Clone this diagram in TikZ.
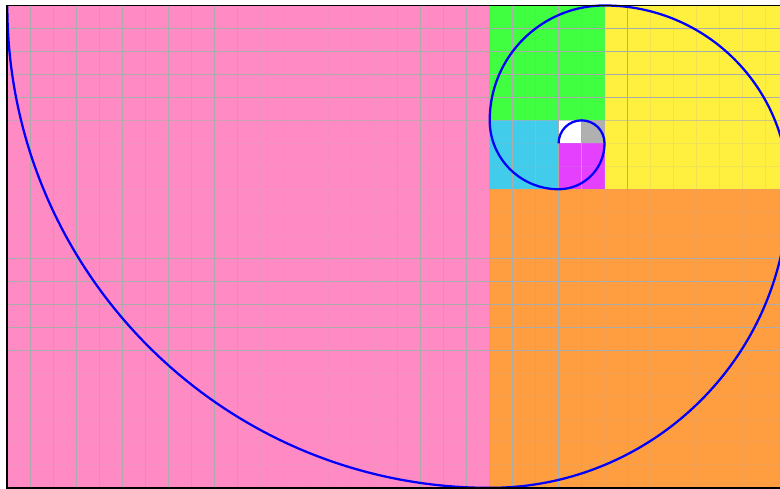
\documentclass[tikz,border=0pt]{standalone}
\usepackage{tikz}
\definecolor{fpink}{RGB}{255,138,196}
\definecolor{forange}{RGB}{255,158,64}
\definecolor{fyellow}{RGB}{255,240,64}
\definecolor{fgreen}{RGB}{64,255,64}
\definecolor{fcyan}{RGB}{66,204,236}
\definecolor{fmagenta}{RGB}{230,64,255}
\definecolor{fgray}{RGB}{176,176,176}
\definecolor{gridgray}{RGB}{172,172,172}
\tikzset{
  sq/.style={fill=#1, draw=none},
  gridline/.style={draw=gridgray, line width=1.1pt},
  faintline/.style={draw=gridgray, line width=1.1pt, draw opacity=0.18},
  spiral/.style={draw=blue, line width=2.8pt},
  frameline/.style={draw=black, line width=2pt}
}
\begin{document}
\begin{tikzpicture}[x=1cm,y=1cm]
\useasboundingbox (-0.318,-0.048) rectangle (33.639,21.239);
\clip (-0.318,-0.048) rectangle (33.639,21.239);
% squares
\path[sq=fpink]    (0,0)   rectangle (21,21);
\path[sq=forange]  (21,0)  rectangle (34,13);
\path[sq=fyellow]  (26,13) rectangle (34,21);
\path[sq=fgreen]   (21,16) rectangle (26,21);
\path[sq=fcyan]    (21,13) rectangle (24,16);
\path[sq=fmagenta] (24,13) rectangle (26,15);
\path[sq=fgray]    (25,15) rectangle (26,16);
\path[sq=white]    (24,15) rectangle (25,16);
% grid: faint everywhere, stronger on some lines
\draw[faintline] (0,0) grid[step=1] (34,21);
\foreach \gx in {1,...,10,18,19,20,21,22,23,24,25,27}
  \draw[gridline] (\gx,0) -- (\gx,21);
\draw[gridline, draw opacity=0.6] (17,0) -- (17,21);
\foreach \gy in {6,...,10,17,18,19,20}
  \draw[gridline] (0,\gy) -- (34,\gy);
\draw[gridline, draw opacity=0.5] (0,16) -- (34,16);
% spiral
\draw[spiral] (24,15)
  arc[start angle=180, end angle=0, radius=1]
  arc[start angle=0, end angle=-90, radius=2]
  arc[start angle=-90, end angle=-180, radius=3]
  arc[start angle=180, end angle=90, radius=5]
  arc[start angle=90, end angle=0, radius=8]
  arc[start angle=0, end angle=-90, radius=13]
  arc[start angle=-90, end angle=-180, radius=21];
% frame
\draw[frameline] (0,0) rectangle (34,21);
\end{tikzpicture}
\end{document}
